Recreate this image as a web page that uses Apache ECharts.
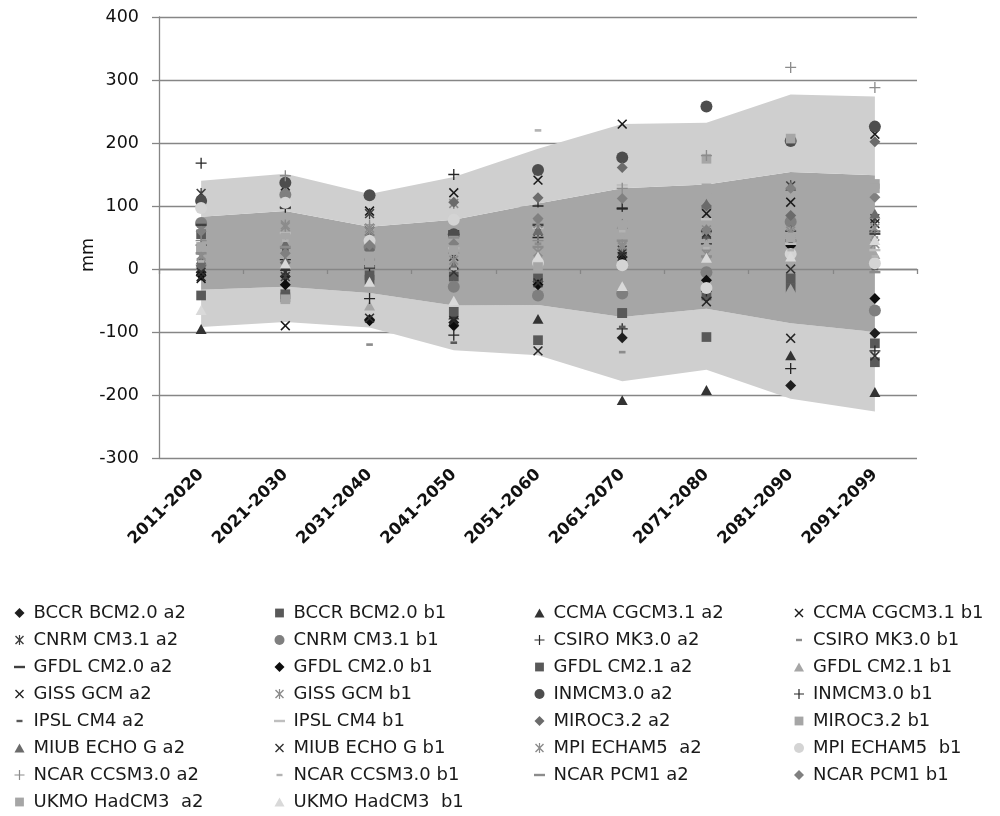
<!DOCTYPE html>
<html>
<head>
<meta charset="utf-8">
<script src="https://cdn.jsdelivr.net/npm/echarts@6/dist/echarts.min.js"></script>
<style>html,body{margin:0;padding:0;background:#fff;}#c{width:1000px;height:816px;}</style>
</head>
<body>
<div id="c"></div>
<script>
// ---------- data ----------
const categories = ['2011-2020','2021-2030','2031-2040','2041-2050','2051-2060','2061-2070','2071-2080','2081-2090','2091-2099'];
const seriesNames = [
  'BCCR BCM2.0 a2','BCCR BCM2.0 b1','CCMA CGCM3.1 a2','CCMA CGCM3.1 b1',
  'CNRM CM3.1 a2','CNRM CM3.1 b1','CSIRO MK3.0 a2','CSIRO MK3.0 b1',
  'GFDL CM2.0 a2','GFDL CM2.0 b1','GFDL CM2.1 a2','GFDL CM2.1 b1',
  'GISS GCM a2','GISS GCM b1','INMCM3.0 a2','INMCM3.0 b1',
  'IPSL CM4 a2','IPSL CM4 b1','MIROC3.2 a2','MIROC3.2 b1',
  'MIUB ECHO G a2','MIUB ECHO G b1','MPI ECHAM5  a2','MPI ECHAM5  b1',
  'NCAR CCSM3.0 a2','NCAR CCSM3.0 b1','NCAR PCM1 a2','NCAR PCM1 b1',
  'UKMO HadCM3  a2','UKMO HadCM3  b1'
];
// values (mm) per decade, in the order of seriesNames
const d2011 = [-5,55,-95,-15,120,73,168,40,70,-10,-42,10,-12,22,108,38,30,100,5,30,15,-5,20,97,45,12,25,60,35,-65];
const d2021 = [-12,-40,5,-90,-12,118,98,25,97,-25,-45,20,132,67,137,15,30,57,10,50,40,-5,70,105,148,45,35,25,-48,9];
const d2031 = [-80,-10,50,92,88,35,5,-120,2,-82,-17,-58,60,65,117,-47,25,40,30,20,55,-78,60,45,70,8,15,38,10,-20];
const d2041 = [-85,-12,-72,121,20,-28,150,40,60,-90,-68,10,-82,104,55,-105,-117,33,106,45,6,-5,14,78,25,0,50,40,30,-50];
const d2051 = [-20,-15,-79,141,60,-42,100,40,70,-25,-113,30,-130,27,157,50,10,65,113,90,62,-22,72,10,45,220,35,80,3,20];
const d2061 = [-109,-70,-208,230,30,-39,-95,-132,96,19,-70,51,20,35,177,96,-92,133,161,83,72,25,38,6,128,60,45,112,70,-27];
const d2071 = [-45,-42,-192,88,55,-5,40,30,60,-18,-108,40,-52,24,258,-35,50,79,100,175,104,57,62,-30,180,33,20,62,128,18];
const d2081 = [-185,-15,-137,106,132,75,60,-25,45,37,-30,-31,-110,56,203,-158,-20,40,85,207,132,0,60,24,320,30,45,128,50,20];
const d2091 = [-102,-118,-195,214,80,-66,60,50,56,-47,-148,24,72,40,226,-130,0,30,202,135,88,-138,65,9,288,20,-5,114,128,46];
// envelope bands
const outerHigh = [140,151,119,146,191,230,232,277,274];
const innerHigh = [83,92,67,78,104,128,134,154,149];
const innerLow  = [-33,-28,-38,-58,-57,-76,-63,-86,-100];
const outerLow  = [-92,-84,-93,-129,-137,-178,-160,-206,-226];
const yTicks = {min:-300, max:400, interval:100};

// ---------- styling ----------
const B = 'M0,0M10,10';
const SYM = {
  diamond: 'path://' + B + 'M5,0L10,5L5,10L0,5Z',
  square:  'path://' + B + 'M0.6,0.6H9.4V9.4H0.6Z',
  triangle:'path://' + B + 'M5,0.6L10,9.6L0,9.6Z',
  circle:  'circle',
  cross:   'path://' + B + 'M0.5,1.5L1.5,0.5L5,4L8.5,0.5L9.5,1.5L6,5L9.5,8.5L8.5,9.5L5,6L1.5,9.5L0.5,8.5L4,5Z',
  plus:    'path://' + B + 'M4.4,0H5.6V4.4H10V5.6H5.6V10H4.4V5.6H0V4.4H4.4Z',
  star:    'path://' + B + 'M0.5,1.5L1.5,0.5L5,4L8.5,0.5L9.5,1.5L6,5L9.5,8.5L8.5,9.5L5,6L1.5,9.5L0.5,8.5L4,5Z M4.4,0H5.6V10H4.4Z',
  sdash:   'path://' + B + 'M2,3.8H8V6.2H2Z',
  ldash:   'path://' + B + 'M-0.5,3.8H10.5V6.2H-0.5Z'
};
const seriesSym = ['diamond','square','triangle','cross','star','circle','plus','sdash',
  'ldash','diamond','square','triangle','cross','star','circle','plus',
  'sdash','ldash','diamond','square','triangle','cross','star','circle',
  'plus','sdash','ldash','diamond','square','triangle'];
const seriesColor = ['#1f1f1f','#595959','#333333','#1a1a1a','#404040','#7f7f7f','#262626','#8c8c8c',
  '#404040','#0d0d0d','#595959','#a6a6a6','#262626','#8c8c8c','#4d4d4d','#262626',
  '#595959','#bfbfbf','#6b6b6b','#a6a6a6','#6b6b6b','#333333','#8c8c8c','#d4d4d4',
  '#8c8c8c','#b3b3b3','#8c8c8c','#808080','#a6a6a6','#d9d9d9'];

const decades = [d2011,d2021,d2031,d2041,d2051,d2061,d2071,d2081,d2091];
const FONT = 'DejaVu Sans';
const AX = '#868686';

const bandBase = {type:'line', stack:'band', stackStrategy:'all', symbol:'none', silent:true,
  lineStyle:{width:0, opacity:0}, z:1, xAxisIndex:0, yAxisIndex:0};
const series = [
  Object.assign({}, bandBase, {name:'_b0', data: outerLow}),
  Object.assign({}, bandBase, {name:'_b1', data: innerLow.map((v,i)=>v-outerLow[i]), areaStyle:{color:'#cfcfcf', opacity:1}}),
  Object.assign({}, bandBase, {name:'_b2', data: innerHigh.map((v,i)=>v-innerLow[i]), areaStyle:{color:'#a6a6a6', opacity:1}}),
  Object.assign({}, bandBase, {name:'_b3', data: outerHigh.map((v,i)=>v-innerHigh[i]), areaStyle:{color:'#cfcfcf', opacity:1}})
];
seriesNames.forEach((n,i)=>{
  series.push({
    type:'scatter', name:n, xAxisIndex:0, yAxisIndex:0, z:4,
    symbol: SYM[seriesSym[i]], symbolSize: seriesSym[i]==='circle' ? 12 : 11, symbolKeepAspect:true,
    itemStyle:{color: seriesColor[i], opacity:1},
    data: decades.map(d=>d[i])
  });
});

const legendLefts = [14,274,534,794];
const legends = legendLefts.map((l,c)=>({
  orient:'vertical', left:l, top:603, height:213, padding:0, itemWidth:18, itemHeight:10, itemGap:7,
  selectedMode:false,
  data: seriesNames.filter((_,i)=>i%4===c),
  textStyle:{fontFamily:FONT, fontSize:18, color:'#1a1a1a', lineHeight:20}
}));

const chart = echarts.init(document.getElementById('c'), null, {renderer:'canvas'});
chart.setOption({
  animation:false,
  backgroundColor:'#ffffff',
  grid:{left:159, right:83, top:17, bottom:358, containLabel:false},
  xAxis:[
    {type:'category', data:categories, position:'bottom', boundaryGap:true,
     axisLine:{show:false, onZero:false}, axisTick:{show:false}, splitLine:{show:false},
     axisLabel:{rotate:45, margin:14, fontFamily:FONT, fontSize:16.5, fontWeight:'bold', color:'#111', interval:0}},
    {type:'category', data:categories, position:'bottom', boundaryGap:true, z:3,
     axisLine:{show:true, onZero:true, lineStyle:{color:AX, width:1.3}},
     axisTick:{show:true, length:5, lineStyle:{color:AX, width:1.3}},
     axisLabel:{show:false}, splitLine:{show:false}}
  ],
  yAxis:{type:'value', min:yTicks.min, max:yTicks.max, interval:yTicks.interval,
    axisLine:{show:true, lineStyle:{color:AX, width:1.3}},
    axisTick:{show:true, length:7, lineStyle:{color:AX, width:1.3}},
    splitLine:{show:true, lineStyle:{color:AX, width:1.3}},
    axisLabel:{margin:20, fontFamily:FONT, fontSize:17.5, color:'#111'}},
  legend: legends,
  graphic:[{type:'text', x:88, y:255, rotation:Math.PI/2,
    style:{text:'mm', fontFamily:FONT, fontSize:17.5, fill:'#111', align:'center', verticalAlign:'middle'}}],
  series: series
});
</script>
</body>
</html>
